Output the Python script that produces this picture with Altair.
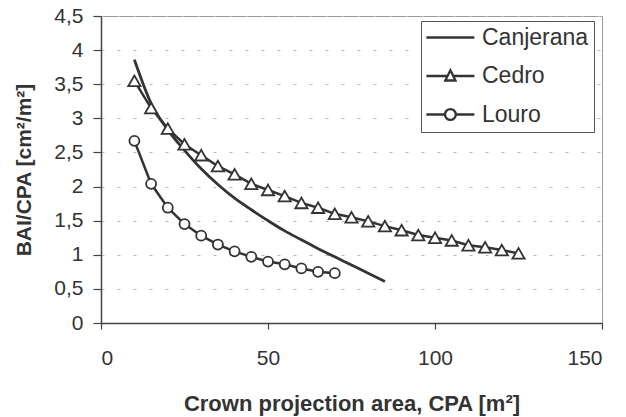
import altair as alt
import pandas as pd

# ---- data ----
series_names = ["Canjerana", "Cedro", "Louro"]

canj_cpa = [10, 15, 20, 25, 30, 35, 40, 45, 50, 55, 60, 65, 70, 75, 80, 85]
canj_val = [3.86, 3.22, 2.83, 2.53, 2.26, 2.03, 1.83, 1.66, 1.50, 1.35, 1.22, 1.09, 0.97, 0.85, 0.73, 0.61]

cedro_cpa = [10, 15, 20, 25, 30, 35, 40, 45, 50, 55, 60, 65, 70, 75, 80, 85,
             90, 95, 100, 105, 110, 115, 120, 125]
cedro_val = [3.55, 3.15, 2.85, 2.62, 2.46, 2.30, 2.18, 2.04, 1.95, 1.86, 1.76, 1.69,
             1.60, 1.55, 1.49, 1.42, 1.36, 1.29, 1.25, 1.21, 1.14, 1.11, 1.07, 1.02]

louro_cpa = [10, 15, 20, 25, 30, 35, 40, 45, 50, 55, 60, 65, 70]
louro_val = [2.67, 2.04, 1.69, 1.45, 1.28, 1.15, 1.05, 0.97, 0.90, 0.86, 0.80, 0.75, 0.73]

x_ticks = [0, 50, 100, 150]
y_ticks = [0, 0.5, 1, 1.5, 2, 2.5, 3, 3.5, 4, 4.5]

rows = []
for name, xs, ys in [("Canjerana", canj_cpa, canj_val),
                     ("Cedro", cedro_cpa, cedro_val),
                     ("Louro", louro_cpa, louro_val)]:
    for x, y in zip(xs, ys):
        rows.append({"series": name, "cpa": x, "val": y})
df = pd.DataFrame(rows)

INK = "#333333"
FONT = "Liberation Sans"

x_enc = alt.X("cpa:Q",
              scale=alt.Scale(domain=[0, 150], nice=False),
              axis=alt.Axis(values=x_ticks, grid=False, title="Crown projection area, CPA [m²]",
                            tickSize=6, labelPadding=18, titlePadding=25,
                            labelFontSize=21, titleFontSize=22))
y_enc = alt.Y("val:Q",
              scale=alt.Scale(domain=[0, 4.5], nice=False),
              axis=alt.Axis(values=y_ticks, title="BAI/CPA [cm²/m²]",
                            labelExpr="replace(toString(datum.value), '.', ',')",
                            grid=True, gridDash=[3, 13], gridColor="#b8b8b8", gridWidth=1,
                            tickSize=8, labelPadding=10, titlePadding=19,
                            labelFontSize=21, titleFontSize=21))

base = alt.Chart(df).encode(x=x_enc, y=y_enc)

canj_line = base.transform_filter(alt.datum.series == "Canjerana").mark_line(
    interpolate="monotone", color=INK, strokeWidth=2.8)

cedro_line = base.transform_filter(alt.datum.series == "Cedro").mark_line(
    color=INK, strokeWidth=2.5)
cedro_pts = base.transform_filter(alt.datum.series == "Cedro").mark_point(
    shape="triangle-up", size=150, filled=True, fill="white", stroke=INK,
    strokeWidth=1.8, opacity=1)

louro_line = base.transform_filter(alt.datum.series == "Louro").mark_line(
    color=INK, strokeWidth=2.5)
louro_pts = base.transform_filter(alt.datum.series == "Louro").mark_point(
    shape="circle", size=100, filled=True, fill="white", stroke=INK,
    strokeWidth=1.8, opacity=1)

# legend glyphs (custom paths, unit = half symbol size)
legend_paths = [
    "M-1.85,0L6.15,0",
    "M-1.85,0L1.7,0M2.6,0L6.15,0M2.15,-0.95L3,0.75L1.3,0.75Z",
    "M-1.85,0L1.25,0M3.05,0L6.15,0M3.05,0A0.9,0.9 0 1 1 1.25,0A0.9,0.9 0 1 1 3.05,0Z",
]

legend_layer = base.transform_filter("false").mark_point(
    color=INK, strokeWidth=2.3, size=144, opacity=1
).encode(
    shape=alt.Shape("series:N",
                    scale=alt.Scale(domain=series_names, range=legend_paths),
                    legend=alt.Legend(title=None, orient="none", legendX=320, legendY=5,
                                      padding=5, strokeColor="#555", fillColor="white",
                                      labelFont=FONT, labelFontSize=23, labelColor=INK,
                                      labelOffset=33, rowPadding=14.5, symbolSize=144,
                                      symbolFillColor="white", symbolStrokeColor=INK,
                                      symbolOpacity=1,
                                      symbolStrokeWidth=2.3, labelLimit=300))
)

chart = alt.layer(
    canj_line, cedro_line, louro_line, cedro_pts, louro_pts, legend_layer
).properties(
    width=501, height=307,
    autosize=alt.AutoSizeParams(type="none"),
    padding={"left": 101, "top": 16, "right": 24, "bottom": 94},
    background="white",
).configure_view(
    stroke="#999999", strokeWidth=1
).configure_axis(
    labelFont=FONT, titleFont=FONT, labelColor=INK, titleColor=INK,
    titleFontWeight="bold", domainColor="#444444", domainWidth=1.5,
    tickColor="#444444", tickWidth=1.2
)

chart.save("out.html", embed_options={"renderer": "svg", "actions": False})
